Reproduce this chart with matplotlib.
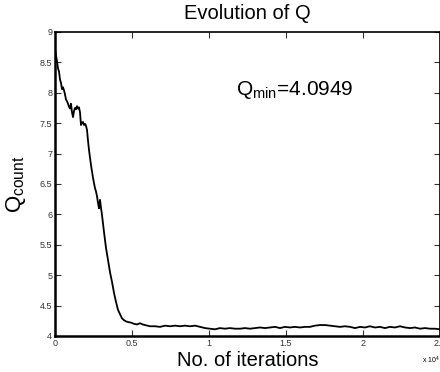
import matplotlib
matplotlib.use("Agg")
import matplotlib.pyplot as plt

plt.rcParams['font.family'] = ['Liberation Sans', 'DejaVu Sans']
plt.rcParams['mathtext.fontset'] = 'custom'
plt.rcParams['mathtext.rm'] = 'Liberation Sans'

# curve (iterations, Q)
iterations = [0, 60, 130, 195, 260, 325, 390, 455, 520, 585, 650, 714, 780, 844, 910,
              974, 1039, 1104, 1169, 1235, 1299, 1365, 1429, 1495, 1558,
              1623, 1688, 1750, 1818, 1880, 1948, 2010, 2078, 2140, 2208,
              2338, 2468, 2597, 2660, 2727, 2792, 2857, 2922, 2990, 3052,
              3182, 3312, 3442, 3571, 3701, 3831, 3961, 4091, 4221, 4351,
              4481, 4610, 4740, 4935, 5130, 5325, 5519, 5700, 5844, 6000, 6169,
              6500, 6820, 7150, 7470, 7800, 8120, 8440, 8770, 9090, 9420, 9740,
              10060, 10390, 10710, 11040, 11360, 11690, 12010, 12340, 12660, 12990,
              13310, 13640, 13960, 14290, 14610, 14940, 15260, 15580, 15910, 16230,
              16560, 16880, 17210, 17530, 17860, 18180, 18510, 18830, 19160, 19480,
              19810, 20130, 20450, 20780, 21100, 21430, 21750, 22080, 22400, 22730,
              23050, 23380, 23700, 24030, 24350, 24680, 25000]
q_values = [8.73, 8.62, 8.52, 8.40, 8.35, 8.22, 8.16, 8.06, 8.09, 8.04, 7.97, 7.89, 7.86, 7.82, 7.77,
            7.74, 7.82, 7.68, 7.60, 7.70, 7.75, 7.73, 7.78, 7.74, 7.76,
            7.68, 7.47, 7.51, 7.52, 7.47, 7.49, 7.46, 7.39, 7.22, 7.06,
            6.81, 6.60, 6.43, 6.38, 6.30, 6.19, 6.10, 6.24, 6.10, 5.99,
            5.71, 5.45, 5.25, 5.05, 4.89, 4.71, 4.56, 4.43, 4.36, 4.29,
            4.26, 4.24, 4.23, 4.22, 4.20, 4.19, 4.21, 4.19, 4.18, 4.17, 4.16,
            4.16, 4.15, 4.17, 4.16, 4.17, 4.16, 4.17, 4.16, 4.17, 4.15, 4.13,
            4.12, 4.11, 4.13, 4.12, 4.13, 4.12, 4.12, 4.13, 4.12, 4.13,
            4.14, 4.13, 4.14, 4.15, 4.13, 4.15, 4.14, 4.15, 4.14, 4.15,
            4.15, 4.17, 4.18, 4.18, 4.17, 4.16, 4.15, 4.16, 4.15, 4.13,
            4.15, 4.14, 4.16, 4.14, 4.15, 4.13, 4.15, 4.14, 4.16, 4.14,
            4.13, 4.14, 4.12, 4.13, 4.12, 4.12, 4.11]

x_ticks = [0, 5000, 10000, 15000, 20000, 25000]
x_ticklabels = ['0', '0.5', '1', '1.5', '2', '2.5']
y_ticks = [4, 4.5, 5, 5.5, 6, 6.5, 7, 7.5, 8, 8.5, 9]
y_ticklabels = ['4', '4.5', '5', '5.5', '6', '6.5', '7', '7.5', '8', '8.5', '9']
q_min = 4.0949

fig = plt.figure(figsize=(4.4, 3.72), dpi=100)
ax = fig.add_axes([0.125, 0.0968, 0.875, 0.8172])
ax.plot(iterations, q_values, color='black', linewidth=1.3)

ax.set_xlim(0, 25000)
ax.set_ylim(4, 9)
ax.set_xticks(x_ticks)
ax.set_xticklabels(x_ticklabels)
ax.set_yticks(y_ticks)
ax.set_yticklabels(y_ticklabels)
ax.tick_params(direction='in', length=4, width=0.8, labelsize=6.5, colors='#333333',
               top=True, right=True, pad=2)
for side in ['left', 'bottom']:
    ax.spines[side].set_linewidth(1.8)
for side in ['top', 'right']:
    ax.spines[side].set_linewidth(1.2)

ax.set_title('Evolution of Q', fontsize=14.5, pad=9)
ax.set_xlabel('No. of iterations', fontsize=14.5, labelpad=2.5)
ax.set_ylabel(r'$\mathregular{Q_{count}}$', fontsize=16, labelpad=8)
ax.text(11750, 8.05, r'$\mathregular{Q_{min}}$=%.4f' % q_min, fontsize=15,
        ha='left', va='center')
ax.text(1.0, -0.06, r'x 10$^{4}$', transform=ax.transAxes, fontsize=5,
        ha='right', va='top')

fig.savefig('out.png', dpi=100)
